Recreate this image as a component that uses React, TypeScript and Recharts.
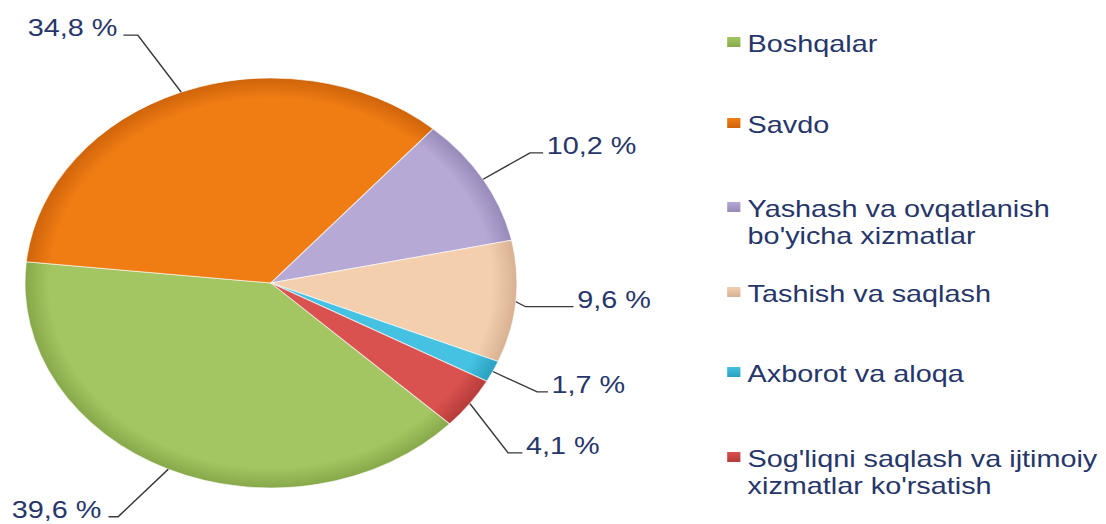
import React from 'react';
import { PieChart, Pie, Cell } from 'recharts';

const categories = [
  'Boshqalar',
  'Savdo',
  "Yashash va ovqatlanish bo'yicha xizmatlar",
  'Tashish va saqlash',
  'Axborot va aloqa',
  "Sog'liqni saqlash  va ijtimoiy xizmatlar ko'rsatish",
];
const shares = [39.6, 34.8, 10.2, 9.6, 1.7, 4.1];
const colors = ['#a3c662', '#f07c14', '#b6a9d6', '#f3cfae', '#45c1e1', '#d9524f'];
const edgeColors = ['#87a84a', '#cf640a', '#978ab9', '#d8b192', '#2aa0c0', '#b53b39'];

const data = categories.map((name, i) => ({ name, value: shares[i] }));

// the source picture is stretched sideways, so draw at 1/1.2 width and scale
const STRETCH = 1.2;
const W = 921;
const H = 524;
const CX = 225.8;
const CY = 283;
const R = 205;
const FONT = '"Liberation Sans", Arial, sans-serif';
const TEXT = '#27366a';

// leader line elbows relative to the slice edge, and horizontal tail length
const leader = [
  { dx: -41.8, dy: 47.5, h: 8, gap: 6 },
  { dx: -36.2, dy: -57, h: 12, gap: 5 },
  { dx: 39, dy: -26.4, h: 11, gap: 3 },
  { dx: 8, dy: 5, h: 40, gap: 3 },
  { dx: 36.9, dy: 20.4, h: 9, gap: 3 },
  { dx: 31.8, dy: 49.3, h: 12, gap: 3 },
];

const legendBaseline = [52, 133, 217, 302, 382, 467];

const RAD = Math.PI / 180;

const renderLabel = (props: any) => {
  const { cx, cy, midAngle, outerRadius, index, value } = props;
  const l = leader[index];
  const ex = cx + outerRadius * Math.cos(-midAngle * RAD);
  const ey = cy + outerRadius * Math.sin(-midAngle * RAD);
  const bx = ex + l.dx;
  const by = ey + l.dy;
  const right = l.dx > 0;
  const tx = right ? bx + l.h : bx - l.h;
  return (
    <g key={`lbl-${index}`}>
      <polyline
        points={`${ex},${ey} ${bx},${by} ${tx},${by}`}
        fill="none"
        stroke="#3a3a3a"
        strokeWidth={1.3}
      />
      <text
        x={right ? tx + l.gap : tx - l.gap}
        y={by + 1}
        textAnchor={right ? 'start' : 'end'}
        fill={TEXT}
        fontSize={24}
        fontFamily={FONT}
      >
        {value.toFixed(1).replace('.', ',') + ' %'}
      </text>
    </g>
  );
};

export default function App() {
  return (
    <div
      style={{
        position: 'absolute',
        left: 0,
        top: 0,
        width: W,
        height: H,
        overflow: 'hidden',
        background: '#fff',
        transform: `scaleX(${STRETCH})`,
        transformOrigin: '0 0',
      }}
    >
      <PieChart width={W} height={H} margin={{ top: 0, right: 0, bottom: 0, left: 0 }}>
        <defs>
          {colors.map((c, i) => (
            <radialGradient key={c} id={`pg${i}`} gradientUnits="userSpaceOnUse" cx={CX} cy={CY} r={R}>
              <stop offset="0%" stopColor={c} />
              <stop offset="90%" stopColor={c} />
              <stop offset="100%" stopColor={edgeColors[i]} />
            </radialGradient>
          ))}
        </defs>
        <Pie
          data={data}
          dataKey="value"
          nameKey="name"
          cx={CX}
          cy={CY}
          outerRadius={R}
          startAngle={-43.4}
          endAngle={-403.4}
          stroke="rgba(255,255,255,0.6)"
          strokeWidth={1}
          label={renderLabel}
          labelLine={false}
          isAnimationActive={false}
        >
          {data.map((d, i) => (
            <Cell key={d.name} fill={`url(#pg${i})`} />
          ))}
        </Pie>
      </PieChart>
      {categories.map((name, i) => (
        <div key={name}>
          <div
            style={{
              position: 'absolute',
              left: 606,
              top: legendBaseline[i] - 15,
              width: 11,
              height: 10,
              background: `linear-gradient(${colors[i]}, ${edgeColors[i]})`,
            }}
          />
          <div
            style={{
              position: 'absolute',
              left: 623,
              top: legendBaseline[i] - 21.8,
              width: 298,
              fontFamily: FONT,
              fontSize: 24,
              lineHeight: '27px',
              color: TEXT,
            }}
          >
            {name}
          </div>
        </div>
      ))}
    </div>
  );
}
